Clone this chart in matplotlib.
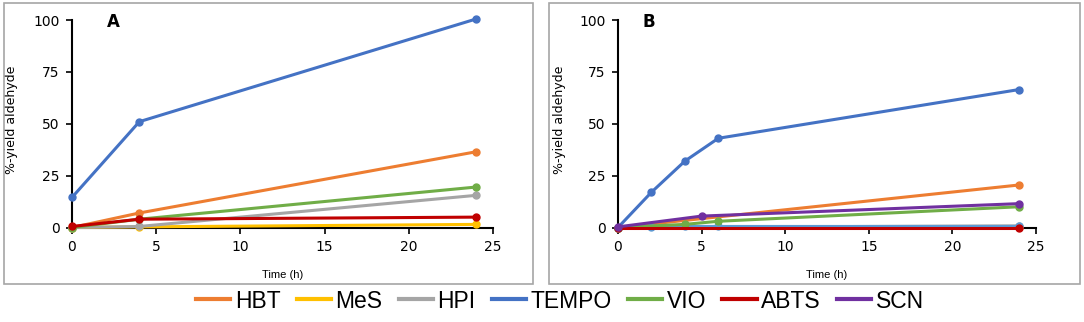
import matplotlib
matplotlib.use("Agg")
import matplotlib.pyplot as plt
from matplotlib.patches import Rectangle
from matplotlib.lines import Line2D
from matplotlib import font_manager

names = ["HBT", "MeS", "HPI", "TEMPO", "VIO", "ABTS", "SCN"]
colors = ["#ED7D31", "#FFC000", "#A5A5A5", "#4472C4", "#70AD47", "#C00000", "#7030A0"]

# Panel A
a_hbt_x, a_hbt_y = [0, 4, 24], [0, 7, 36.5]
a_mes_x, a_mes_y = [0, 4, 24], [0, 0.3, 1.5]
a_hpi_x, a_hpi_y = [0, 4, 24], [0, 0.5, 15.5]
a_tempo_x, a_tempo_y = [0, 4, 24], [14.5, 51, 100.5]
a_vio_x, a_vio_y = [0, 4, 24], [0, 4, 19.5]
a_abts_x, a_abts_y = [0, 4, 24], [0.5, 4, 5]

# Panel B
b_hbt_x, b_hbt_y = [0, 24], [0, 20.5]
b_mes_x, b_mes_y = [0, 24], [0, 0.2]
b_hpi_x, b_hpi_y = [0, 24], [0, 0.8]
b_tempo_x, b_tempo_y = [0, 2, 4, 6, 24], [0, 17, 32, 43, 66.5]
b_vio_x, b_vio_y = [0, 4, 6, 24], [0, 1.5, 3, 10]
b_abts_x, b_abts_y = [0, 24], [0, 0]
b_scn_x, b_scn_y = [0, 5, 24], [0.3, 5.5, 11.5]
b_extra_x, b_extra_y = [0, 2, 4, 6, 24], [0, 0.2, 0.5, 0.5, 0.5]
extra_color = "#5B9BD5"

x_ticks = [0, 5, 10, 15, 20, 25]
y_ticks = [0, 25, 50, 75, 100]

avail = {f.name for f in font_manager.fontManager.ttflist}
narrow = "Liberation Sans Narrow" if "Liberation Sans Narrow" in avail else "Liberation Sans"

W, H = 1084, 322
fig = plt.figure(figsize=(W / 100, H / 100), dpi=100)

# outer boxes
for (x0, x1) in [(4, 533), (549, 1080)]:
    fig.patches.append(Rectangle((x0 / W, 1 - 284 / H), (x1 - x0) / W, (284 - 3) / H,
                                 transform=fig.transFigure, fill=False,
                                 edgecolor="#A6A6A6", linewidth=1.2))

def make_ax(left_px, right_px, letter, letter_x, ylab_px, series):
    ax = fig.add_axes([left_px / W, 1 - 227.5 / H, (right_px - left_px) / W, (227.5 - 20) / H])
    for xs, ys, c, z in series:
        ax.plot(xs, ys, color=c, lw=2.2, marker="o", ms=5, clip_on=False, zorder=z)
    ax.set_xlim(0, 25)
    ax.set_ylim(0, 100)
    ax.set_xticks(x_ticks)
    ax.set_yticks(y_ticks)
    for s in ["top", "right"]:
        ax.spines[s].set_visible(False)
    for s in ["left", "bottom"]:
        ax.spines[s].set_linewidth(1.5)
        ax.spines[s].set_color("black")
        ax.spines[s].set_zorder(1)
    ax.tick_params(direction="out", length=4, width=1.2, labelsize=10, pad=5)
    ax.set_xlabel("Time (h)", fontsize=8, family=narrow)
    ax.xaxis.set_label_coords(0.5, -0.205)
    ax.set_ylabel("%-yield aldehyde", fontsize=9)
    w = right_px - left_px
    ax.yaxis.set_label_coords((ylab_px - left_px) / w, 0.52)
    ax.text((letter_x - left_px) / w, 0.99, letter, transform=ax.transAxes, fontsize=12,
            fontweight="bold", ha="left", va="center")
    return ax

seriesA = [
    (a_hbt_x, a_hbt_y, colors[0], 3),
    (a_mes_x, a_mes_y, colors[1], 3),
    (a_hpi_x, a_hpi_y, colors[2], 3),
    (a_tempo_x, a_tempo_y, colors[3], 3),
    (a_vio_x, a_vio_y, colors[4], 3),
    (a_abts_x, a_abts_y, colors[5], 3),
]
seriesB = [
    (b_hbt_x, b_hbt_y, colors[0], 3),
    (b_mes_x, b_mes_y, colors[1], 3),
    (b_hpi_x, b_hpi_y, colors[2], 3),
    (b_extra_x, b_extra_y, extra_color, 3),
    (b_tempo_x, b_tempo_y, colors[3], 3),
    (b_vio_x, b_vio_y, colors[4], 3),
    (b_abts_x, b_abts_y, colors[5], 3),
    (b_scn_x, b_scn_y, colors[6], 3),
]

make_ax(72, 493, "A", 107, 18, seriesA)
make_ax(618, 1036, "B", 642, 566, seriesB)

handles = [Line2D([0], [0], color=c, lw=3) for c in colors]
fig.legend(handles, names, loc="center", bbox_to_anchor=(560 / W, 1 - 301 / H), ncol=7,
           frameon=False, prop={"family": narrow, "size": 16.5}, handlelength=1.5,
           handletextpad=0.2, columnspacing=0.7, borderpad=0)

fig.savefig("out.png", dpi=100)
